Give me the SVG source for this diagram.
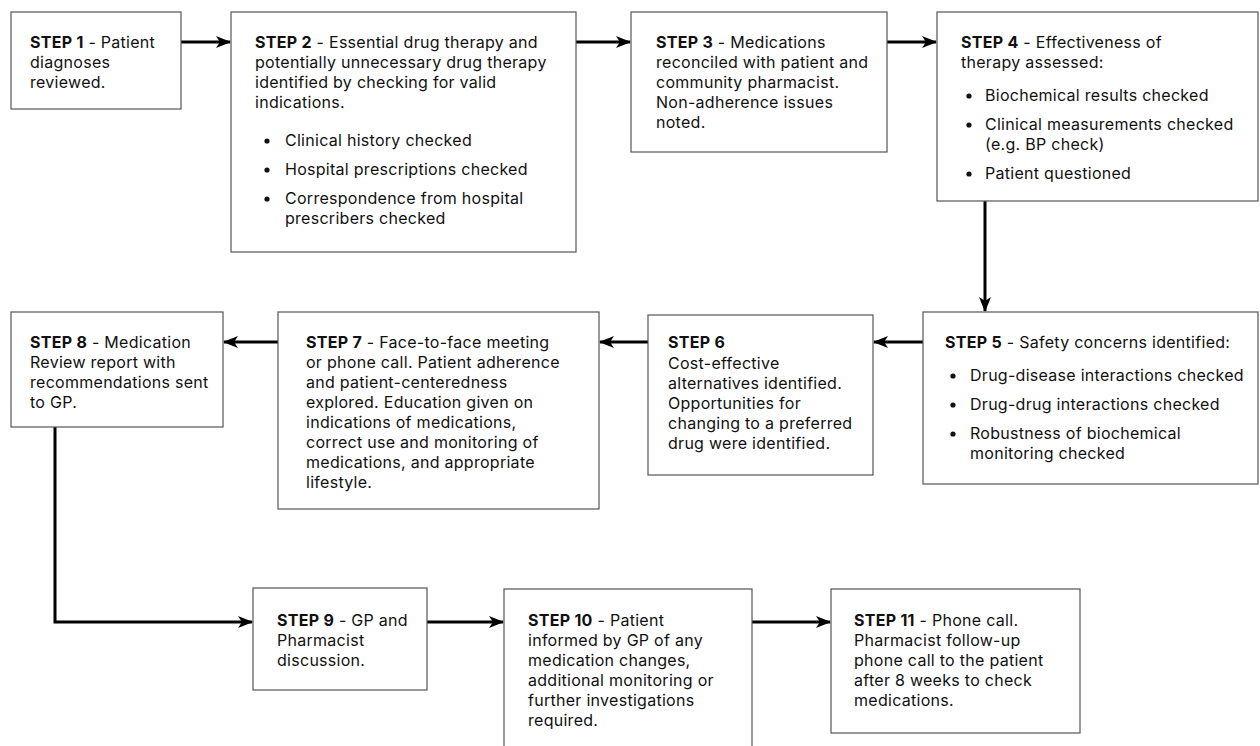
<svg xmlns="http://www.w3.org/2000/svg" width="1260" height="746" viewBox="0 0 1260 746">
<defs>
<style>
.box{fill:#fff;stroke:#555;stroke-width:1.2}
text{font-family:Inter,"Liberation Sans",sans-serif;font-size:16px;letter-spacing:0.28px;fill:#111}
.b{font-weight:700}
.dot{fill:#111}
.con{fill:none;stroke:#000;stroke-width:3}
</style>
<marker id="ah" viewBox="0 0 15 12" refX="14" refY="6" markerWidth="15" markerHeight="12" markerUnits="userSpaceOnUse" orient="auto">
<path d="M0,0 L15,6 L0,12 L4,6 Z" fill="#000"/>
</marker>
</defs>
<rect width="1260" height="746" fill="#fff"/>
<g id="connectors">
<path class="con" d="M181,42 H230" marker-end="url(#ah)"/>
<path class="con" d="M576,42 H630" marker-end="url(#ah)"/>
<path class="con" d="M887,42 H936" marker-end="url(#ah)"/>
<path class="con" d="M985,201 V311" marker-end="url(#ah)"/>
<path class="con" d="M923,342 H874" marker-end="url(#ah)"/>
<path class="con" d="M648,342 H600" marker-end="url(#ah)"/>
<path class="con" d="M278,342 H224" marker-end="url(#ah)"/>
<path class="con" d="M55,427 V622 H252" marker-end="url(#ah)"/>
<path class="con" d="M427,622 H503" marker-end="url(#ah)"/>
<path class="con" d="M752,622 H830" marker-end="url(#ah)"/>
</g>
<g id="step1">
<rect class="box" x="11" y="12" width="170" height="97"/>
<text x="30" y="48"><tspan class="b">STEP 1</tspan> - Patient</text>
<text x="30" y="68">diagnoses</text>
<text x="30" y="88">reviewed.</text>
</g>
<g id="step2">
<rect class="box" x="231" y="12" width="345" height="240"/>
<text x="255" y="48"><tspan class="b">STEP 2</tspan> - Essential drug therapy and</text>
<text x="255" y="68">potentially unnecessary drug therapy</text>
<text x="255" y="88">identified by checking for valid</text>
<text x="255" y="108">indications.</text>
<circle class="dot" cx="267" cy="141" r="2.6"/>
<text x="285" y="146">Clinical history checked</text>
<circle class="dot" cx="267" cy="170" r="2.6"/>
<text x="285" y="175">Hospital prescriptions checked</text>
<circle class="dot" cx="267" cy="199" r="2.6"/>
<text x="285" y="204">Correspondence from hospital</text>
<text x="285" y="224">prescribers checked</text>
</g>
<g id="step3">
<rect class="box" x="631" y="12" width="256" height="140"/>
<text x="656" y="48"><tspan class="b">STEP 3</tspan> - Medications</text>
<text x="656" y="68">reconciled with patient and</text>
<text x="656" y="88">community pharmacist.</text>
<text x="656" y="108">Non-adherence issues</text>
<text x="656" y="128">noted.</text>
</g>
<g id="step4">
<rect class="box" x="937" y="12" width="321" height="189"/>
<text x="961" y="48"><tspan class="b">STEP 4</tspan> - Effectiveness of</text>
<text x="961" y="68">therapy assessed:</text>
<circle class="dot" cx="969" cy="96" r="2.6"/>
<text x="985" y="101">Biochemical results checked</text>
<circle class="dot" cx="969" cy="125" r="2.6"/>
<text x="985" y="130">Clinical measurements checked</text>
<text x="985" y="150">(e.g. BP check)</text>
<circle class="dot" cx="969" cy="174" r="2.6"/>
<text x="985" y="179">Patient questioned</text>
</g>
<g id="step5">
<rect class="box" x="923" y="312" width="335" height="172"/>
<text x="945" y="348"><tspan class="b">STEP 5</tspan> - Safety concerns identified:</text>
<circle class="dot" cx="953" cy="376" r="2.6"/>
<text x="970" y="381">Drug-disease interactions checked</text>
<circle class="dot" cx="953" cy="405" r="2.6"/>
<text x="970" y="410">Drug-drug interactions checked</text>
<circle class="dot" cx="953" cy="434" r="2.6"/>
<text x="970" y="439">Robustness of biochemical</text>
<text x="970" y="459">monitoring checked</text>
</g>
<g id="step6">
<rect class="box" x="648" y="315" width="225" height="160"/>
<text x="668" y="348" class="b">STEP 6</text>
<text x="668" y="369">Cost-effective</text>
<text x="668" y="389">alternatives identified.</text>
<text x="668" y="409">Opportunities for</text>
<text x="668" y="429">changing to a preferred</text>
<text x="668" y="449">drug were identified.</text>
</g>
<g id="step7">
<rect class="box" x="278" y="312" width="321" height="197"/>
<text x="306" y="348"><tspan class="b">STEP 7</tspan> - Face-to-face meeting</text>
<text x="306" y="368">or phone call. Patient adherence</text>
<text x="306" y="388">and patient-centeredness</text>
<text x="306" y="408">explored. Education given on</text>
<text x="306" y="428">indications of medications,</text>
<text x="306" y="448">correct use and monitoring of</text>
<text x="306" y="468">medications, and appropriate</text>
<text x="306" y="488">lifestyle.</text>
</g>
<g id="step8">
<rect class="box" x="11" y="312" width="212" height="115"/>
<text x="30" y="348"><tspan class="b">STEP 8</tspan> - Medication</text>
<text x="30" y="368">Review report with</text>
<text x="30" y="388">recommendations sent</text>
<text x="30" y="408">to GP.</text>
</g>
<g id="step9">
<rect class="box" x="253" y="588" width="174" height="102"/>
<text x="277" y="626"><tspan class="b">STEP 9</tspan> - GP and</text>
<text x="277" y="646">Pharmacist</text>
<text x="277" y="666">discussion.</text>
</g>
<g id="step10">
<rect class="box" x="504" y="589" width="248" height="170"/>
<text x="528" y="626"><tspan class="b">STEP 10</tspan> - Patient</text>
<text x="528" y="646">informed by GP of any</text>
<text x="528" y="666">medication changes,</text>
<text x="528" y="686">additional monitoring or</text>
<text x="528" y="706">further investigations</text>
<text x="528" y="726">required.</text>
</g>
<g id="step11">
<rect class="box" x="831" y="589" width="249" height="144"/>
<text x="854" y="626"><tspan class="b">STEP 11</tspan> - Phone call.</text>
<text x="854" y="646">Pharmacist follow-up</text>
<text x="854" y="666">phone call to the patient</text>
<text x="854" y="686">after 8 weeks to check</text>
<text x="854" y="706">medications.</text>
</g>
</svg>
